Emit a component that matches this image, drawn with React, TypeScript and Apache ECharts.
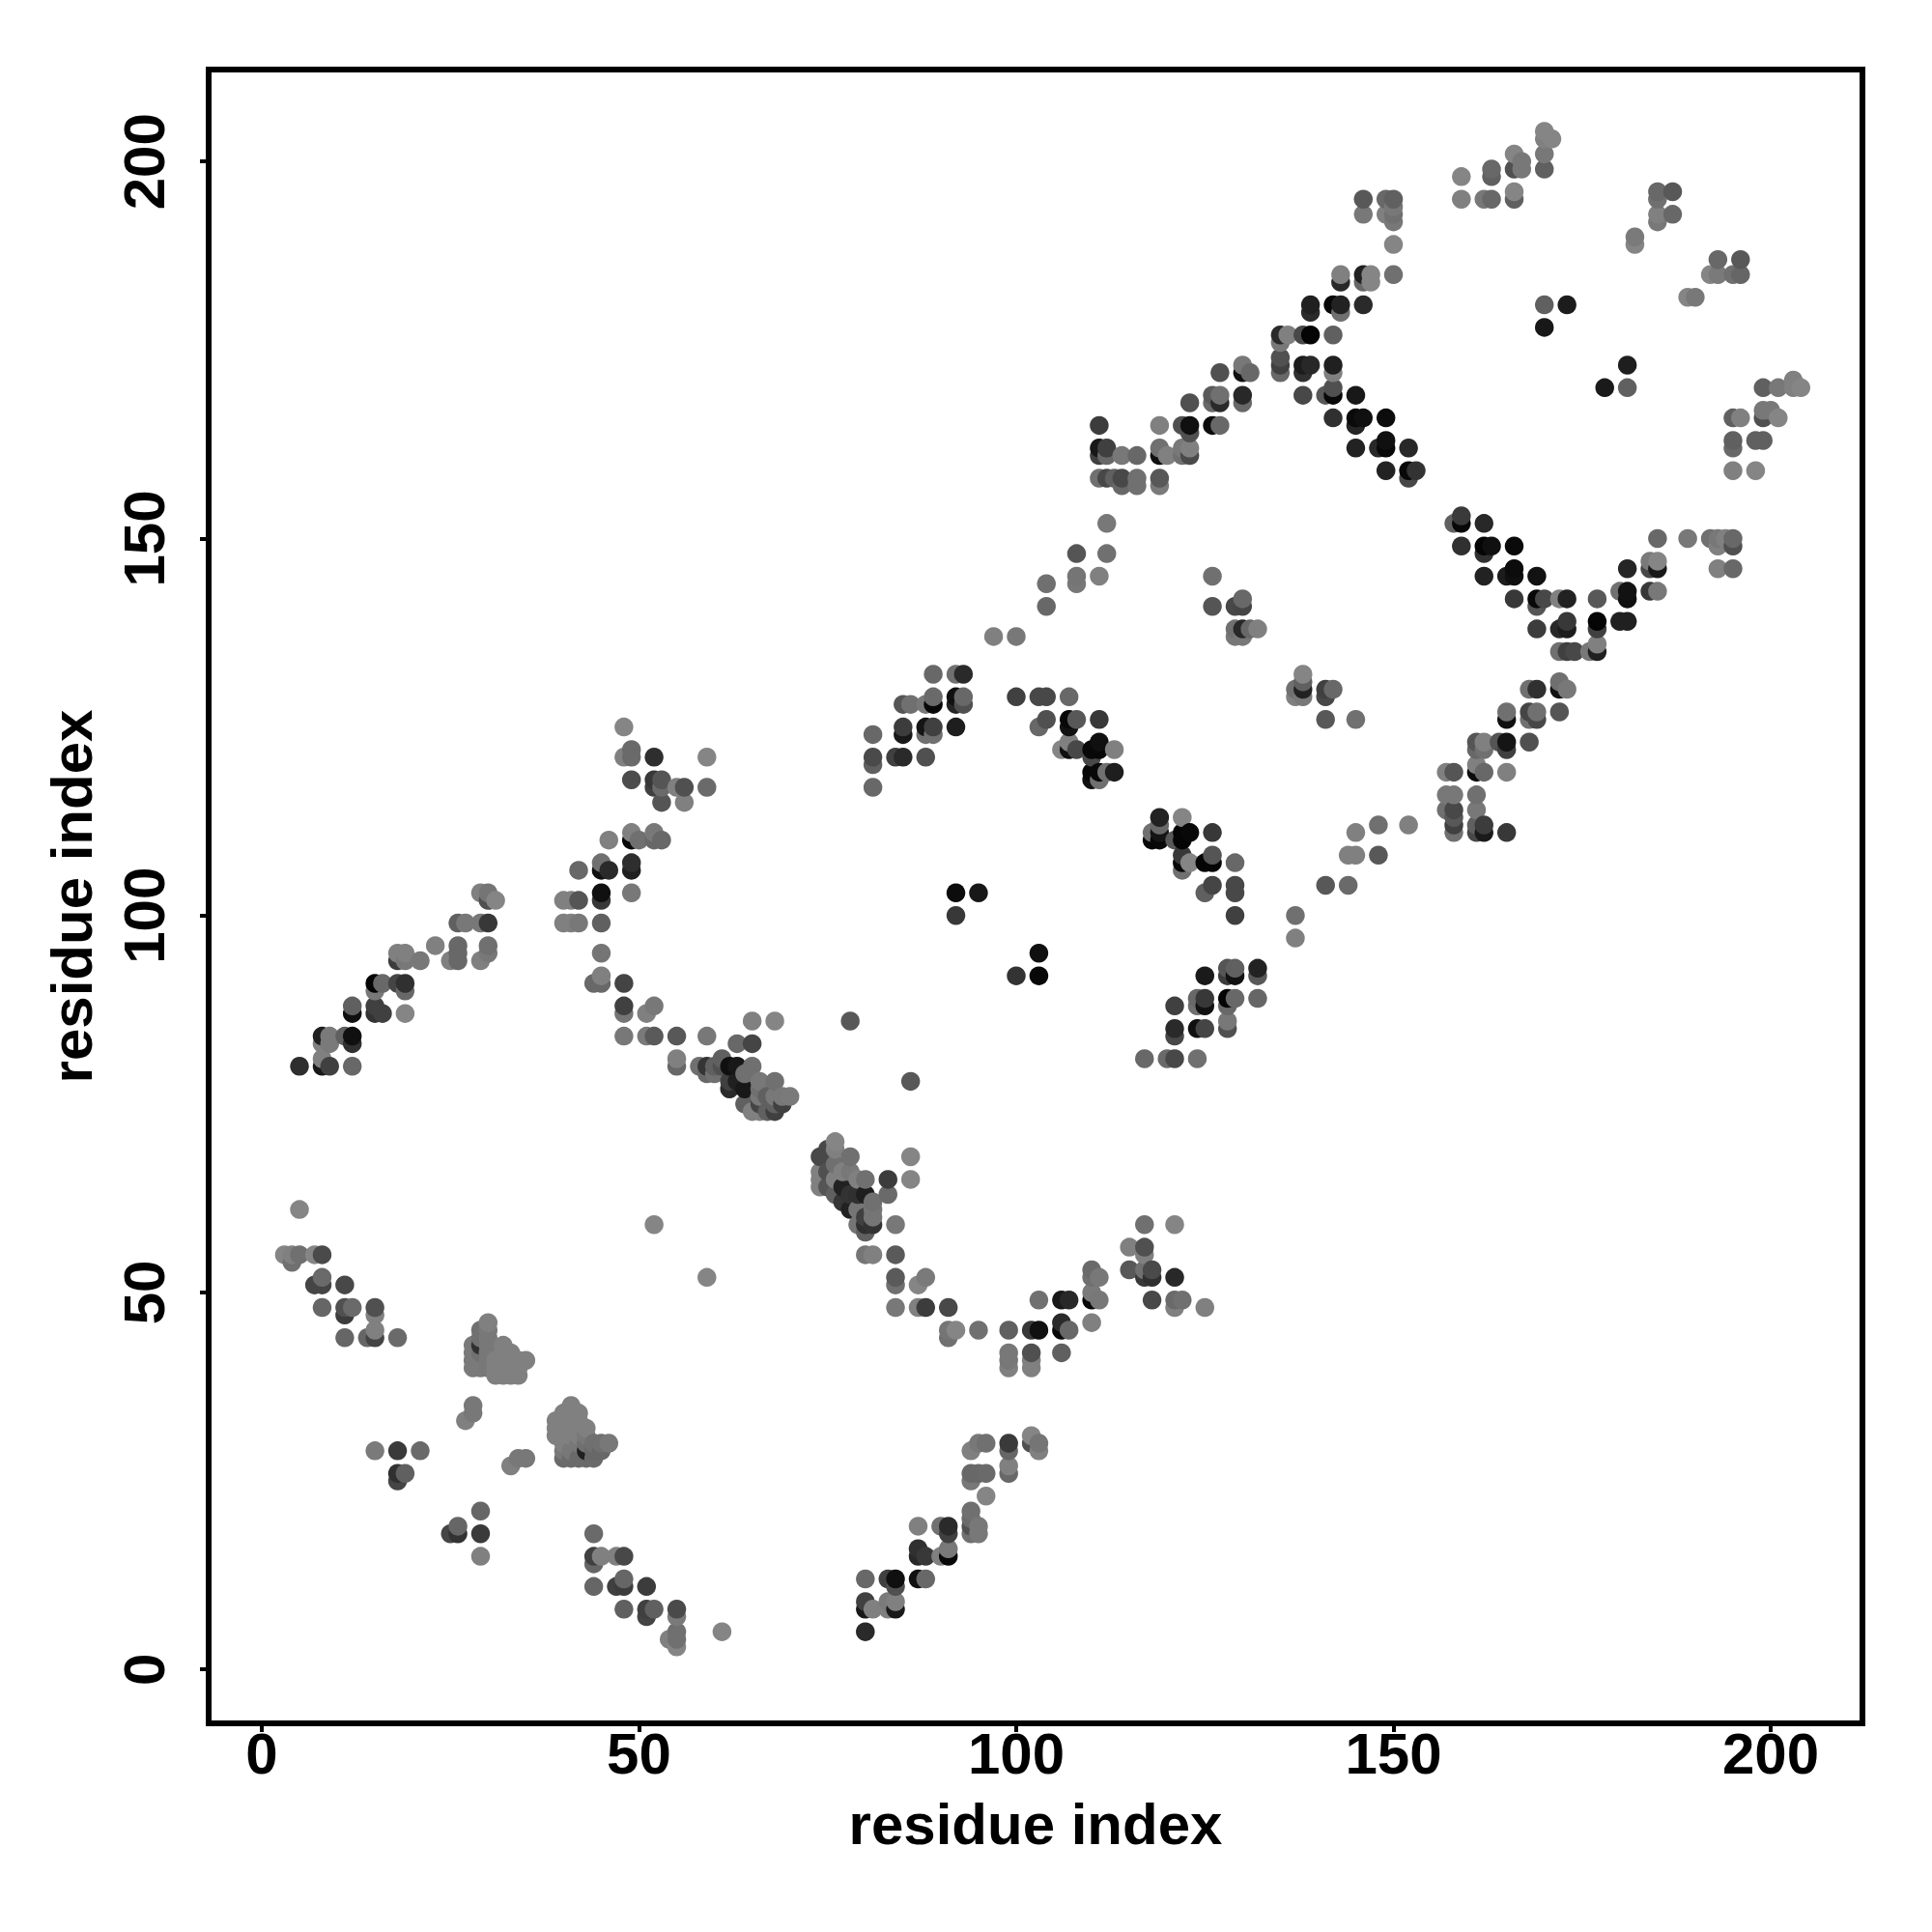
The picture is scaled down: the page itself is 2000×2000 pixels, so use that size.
import React, { useEffect, useRef } from "react";
import * as echarts from "echarts";

const tickValues = [0, 50, 100, 150, 200];
const axisTitle = "residue index";

// each point: [residue x, residue y, grey level]
const lowerLeft = [
[5,61,0x85],[3,55,0x85],[4,55,0x80],[4,54,0x70],[5,55,0x70],[7,55,0x85],[8,55,0x4a],[8,52,0x6a],[7,51,0x45],[8,51,0x45],[11,51,0x48],
[8,48,0x66],[11,48,0x50],[11,47,0x3c],[12,48,0x6a],[15,48,0x50],[15,47,0x80],[15,45,0x80],[11,44,0x66],[14,44,0x66],[15,44,0x44],[18,44,0x6a],
[28,35,0x78],[28,34,0x78],[27,33,0x80],[15,29,0x7a],[18,29,0x3a],[21,29,0x6a],[18,26,0x30],[19,26,0x60],[18,25,0x45],[33,27,0x80],[34,28,0x78],[35,28,0x78],
[29,21,0x66],[25,18,0x45],[26,18,0x33],[26,19,0x66],[29,18,0x3a],[29,15,0x80],[44,18,0x6a],[44,15,0x40],[44,14,0x66],[45,15,0x80],[47,15,0x80],[48,15,0x48],
[48,12,0x66],[47,11,0x40],[48,11,0x3c],[51,11,0x3c],[44,11,0x66],[48,8,0x60],[51,8,0x40],[51,7,0x44],[52,8,0x60],[55,8,0x4a],[55,7,0x7a],[55,5,0x70],[54,4,0x80],[55,4,0x70],[55,3,0x85],[61,5,0x85],[52,59,0x85],[59,52,0x85],
];
const clusterOne = [
[28,40,0x7a],[28,41,0x7a],[28,42,0x7a],[28,43,0x7a],[29,40,0x7a],[29,41,0x7a],[29,42,0x70],[29,43,0x30],[29,44,0x70],[29,45,0x70],
[30,40,0x78],[30,41,0x78],[30,42,0x78],[30,43,0x78],[30,44,0x78],[30,45,0x78],[30,46,0x80],[31,39,0x80],[31,40,0x80],[31,41,0x80],
[32,39,0x80],[32,40,0x80],[32,41,0x80],[32,42,0x80],[32,43,0x80],[33,39,0x80],[33,40,0x80],[33,41,0x80],[33,42,0x80],[34,39,0x80],[34,40,0x80],[34,41,0x80],[35,41,0x80],
];
const clusterTwo = [
[39,31,0x80],[39,32,0x80],[39,33,0x80],[40,28,0x6a],[40,29,0x78],[40,30,0x80],[40,31,0x80],[40,32,0x80],[40,33,0x80],[40,34,0x80],
[41,28,0x6a],[41,29,0x78],[41,31,0x80],[41,32,0x80],[41,33,0x80],[41,34,0x80],[41,35,0x80],[42,28,0x6a],[42,30,0x78],[42,31,0x80],[42,32,0x80],[42,33,0x80],[42,34,0x80],
[43,28,0x6a],[43,29,0x20],[43,30,0x70],[43,31,0x78],[43,32,0x80],[44,28,0x6a],[44,29,0x68],[44,30,0x70],[45,29,0x68],[45,30,0x70],[46,30,0x78],
];
const lowerMiddle = [
[76,70,0x85],[76,69,0x80],[74,68,0x48],[75,69,0x48],[78,68,0x70],[86,68,0x85],[86,65,0x85],[83,65,0x3c],[83,63,0x6a],[80,65,0x70],[80,63,0x1e],[84,59,0x78],[84,55,0x5a],[80,55,0x75],[81,55,0x80],
[74,66,0x80],[74,65,0x80],[74,64,0x80],[75,66,0x50],[75,64,0x55],[76,67,0x70],[76,65,0x80],[77,66,0x80],[77,64,0x22],[77,62,0x35],[78,66,0x78],[78,63,0x33],[78,61,0x22],[79,65,0x80],[79,61,0x75],[79,59,0x75],[80,59,0x30],[80,58,0x60],[81,61,0x75],[81,60,0x75],[81,59,0x33],[80,60,0x40],[79,63,0x30],[81,62,0x70],[76,63,0x60],
[84,52,0x5a],[84,51,0x70],[88,52,0x7a],[87,51,0x85],[84,48,0x78],[87,48,0x80],[88,48,0x3c],[91,48,0x48],[91,45,0x75],[91,44,0x70],[92,45,0x85],[95,45,0x70],
[99,45,0x60],[99,42,0x78],[99,41,0x78],[99,40,0x80],[102,45,0x38],[103,45,0x10],[102,42,0x50],[102,41,0x80],[102,40,0x80],[106,46,0x2a],[106,45,0x08],[107,45,0x68],[106,42,0x60],[103,49,0x70],[106,49,0x18],[107,49,0x28],
[110,46,0x80],[110,50,0x7a],[111,49,0x78],[110,49,0x08],[110,53,0x6a],[110,52,0x70],[111,52,0x78],[115,56,0x80],[117,56,0x50],[117,55,0x80],[117,59,0x70],[121,59,0x85],[115,53,0x58],[117,53,0x70],[118,53,0x4a],[117,52,0x38],[118,52,0x30],[121,52,0x28],[118,49,0x48],[121,49,0x6a],[122,49,0x70],[121,48,0x80],[125,48,0x80],
[80,5,0x2a],[80,9,0x40],[80,8,0x18],[81,8,0x80],[80,12,0x68],[83,12,0x40],[84,12,0x10],[84,11,0x50],[83,9,0x7a],[84,9,0x80],[83,8,0x80],[84,8,0x1a],[87,12,0x10],[88,12,0x68],
[87,16,0x30],[87,15,0x28],[88,15,0x38],[90,15,0x80],[91,15,0x08],[91,16,0x78],[91,18,0x40],[91,19,0x2a],[90,19,0x70],[87,19,0x80],
[94,21,0x70],[94,19,0x50],[94,18,0x70],[95,19,0x78],[95,18,0x78],[94,20,0x6a],[96,23,0x85],[94,25,0x78],[94,26,0x68],[95,26,0x68],[96,26,0x6a],[99,26,0x68],[99,27,0x80],[99,29,0x66],[99,30,0x3a],[94,29,0x80],[95,30,0x78],[96,30,0x70],[102,31,0x85],[102,30,0x50],[103,30,0x75],[103,29,0x80],
];
const upperLeft = [
[5,80,0x2e],[8,80,0x18],[9,80,0x40],[12,80,0x68],[8,81,0x80],[8,84,0x20],[9,84,0x7a],[8,83,0x80],[9,83,0x7a],[11,84,0x60],[12,84,0x10],[12,83,0x30],
[12,88,0x60],[12,87,0x10],[15,88,0x40],[15,87,0x33],[16,87,0x40],[19,87,0x85],[15,91,0x05],[15,90,0x78],[16,91,0x68],[18,91,0x45],[19,91,0x30],[19,90,0x68],
[18,95,0x80],[18,94,0x3c],[19,95,0x80],[19,94,0x78],[21,94,0x78],[23,96,0x80],[26,96,0x68],[26,95,0x68],[26,94,0x68],[25,94,0x80],[29,94,0x80],[30,96,0x70],[30,95,0x78],
[26,99,0x60],[27,99,0x78],[29,99,0x78],[30,99,0x38],[29,103,0x80],[30,103,0x75],[30,102,0x50],[31,102,0x85],
[40,102,0x80],[41,102,0x80],[42,102,0x55],[40,99,0x80],[41,99,0x80],[42,99,0x78],[45,99,0x60],[45,103,0x10],[45,102,0x38],[49,103,0x78],[42,106,0x68],[45,107,0x70],[45,106,0x10],[46,106,0x2a],[49,107,0x2e],[49,106,0x20],
[46,110,0x80],[49,111,0x80],[49,110,0x08],[50,110,0x70],[52,111,0x78],[52,110,0x68],[53,110,0x68],[45,95,0x75],[45,92,0x80],[44,91,0x68],[45,91,0x68],[48,91,0x44],
[48,88,0x40],[48,87,0x75],[52,88,0x78],[51,87,0x80],[48,84,0x78],[51,84,0x7a],[52,84,0x5a],[55,84,0x58],[59,84,0x78],[55,81,0x80],[55,80,0x68],
[48,125,0x85],[48,121,0x80],[49,122,0x6a],[49,121,0x6a],[52,121,0x2e],[59,121,0x85],[49,118,0x4c],[52,118,0x38],[53,118,0x55],[52,117,0x40],[53,117,0x6a],[55,117,0x80],[56,117,0x50],[59,117,0x6a],[53,115,0x55],[56,115,0x80],
[58,80,0x70],[59,80,0x35],[59,79,0x68],[60,80,0x60],[61,80,0x50],[60,79,0x70],[62,77,0x2a],[62,80,0x10],[63,83,0x68],[65,86,0x80],[68,86,0x85],[65,83,0x45],[63,80,0x18],[61,81,0x60],[65,80,0x70],[64,79,0x70],[66,78,0x78],[68,78,0x70],[62,78,0x40],[63,78,0x20],[64,77,0x18],[66,77,0x70],[69,76,0x78],[70,76,0x7a],[68,76,0x78],[66,76,0x78],[64,75,0x60],[66,75,0x45],[68,74,0x40],[69,75,0x40],[65,74,0x80],[66,74,0x80],[67,76,0x60],[67,74,0x60],[68,75,0x60],
[78,86,0x58],[86,78,0x58],
];
const centre = [
[81,124,0x68],[81,121,0x4a],[81,120,0x60],[81,117,0x68],[84,121,0x40],[85,121,0x2a],[88,121,0x50],[85,125,0x3c],[85,124,0x18],[88,125,0x15],[89,125,0x40],[88,124,0x70],[89,124,0x70],[92,125,0x1e],[85,128,0x55],[86,128,0x70],[88,128,0x78],[89,129,0x6a],[89,128,0x08],[92,129,0x10],[92,128,0x25],[93,129,0x68],[93,128,0x50],[89,132,0x68],[92,132,0x70],[93,132,0x2a],
[100,129,0x40],[103,129,0x48],[104,129,0x48],[107,129,0x68],[104,126,0x50],[103,125,0x68],[107,126,0x08],[107,125,0x12],[108,126,0x58],[111,126,0x38],[107,123,0x80],[106,122,0x85],[107,122,0x10],[108,122,0x48],[111,123,0x10],[110,122,0x08],[111,122,0x08],[113,122,0x80],[110,121,0x48],[110,119,0x08],[111,119,0x08],[113,119,0x1e],[112,119,0x70],[110,118,0x10],[111,118,0x70],
[92,103,0x0c],[95,103,0x18],[92,100,0x38],[103,95,0x10],[100,92,0x33],[103,92,0x08],
[119,113,0x22],[122,113,0x85],[119,112,0x68],[118,111,0x70],[118,110,0x08],[119,110,0x08],[119,111,0x15],[122,111,0x05],[123,111,0x08],[122,110,0x05],[121,110,0x58],[126,111,0x38],
[122,108,0x38],[122,107,0x08],[123,107,0x85],[122,106,0x70],[125,107,0x05],[126,107,0x05],[126,108,0x55],[129,107,0x68],[126,104,0x45],[125,103,0x60],[129,104,0x48],[129,103,0x48],[129,100,0x40],
[117,81,0x68],[120,81,0x6a],[121,81,0x48],[124,81,0x70],[121,85,0x2a],[121,84,0x48],[124,85,0x10],[125,85,0x45],[128,86,0x78],[128,85,0x50],[121,88,0x40],[124,89,0x68],[124,88,0x70],[125,89,0x38],[125,88,0x12],[128,89,0x05],[129,89,0x68],[128,88,0x68],[125,92,0x1a],[128,93,0x55],[129,93,0x60],[128,92,0x3c],[129,92,0x12],[132,93,0x22],[132,92,0x58],[132,89,0x66],
[141,104,0x58],[144,104,0x6a],[137,100,0x70],[137,97,0x80],[97,137,0x80],[100,137,0x78],[104,144,0x70],[104,141,0x68],
];
const upperRight = [
[126,145,0x70],[126,141,0x55],[129,141,0x48],[130,142,0x68],[130,141,0x45],[129,138,0x70],[130,138,0x28],[129,137,0x78],[130,137,0x78],[131,138,0x68],[132,138,0x80],
[138,132,0x85],[138,131,0x60],[137,130,0x70],[138,130,0x22],[137,129,0x80],[138,129,0x78],[141,130,0x40],[142,130,0x68],[141,129,0x48],[141,126,0x58],[145,126,0x70],
[145,111,0x80],[148,112,0x70],[152,112,0x80],[144,108,0x80],[145,108,0x80],[148,108,0x58],
[157,116,0x78],[158,116,0x78],[161,116,0x70],[157,114,0x70],[158,114,0x48],[161,114,0x78],[158,113,0x58],[158,112,0x40],[158,111,0x70],[161,112,0x60],[161,111,0x48],[162,112,0x3c],[162,111,0x1a],[165,111,0x38],
[157,119,0x80],[158,119,0x55],[161,120,0x80],[161,119,0x0c],[162,119,0x68],[165,119,0x80],[161,123,0x55],[162,123,0x80],[161,122,0x68],[162,122,0x70],[164,123,0x55],[165,123,0x15],[165,122,0x40],[168,123,0x50],
[165,127,0x70],[165,126,0x10],[168,127,0x45],[169,127,0x70],[168,126,0x70],[169,126,0x48],[172,127,0x55],[168,130,0x70],[169,130,0x30],[172,131,0x70],[172,130,0x12],[173,130,0x78],
[172,135,0x70],[173,135,0x40],[174,135,0x48],[176,135,0x78],[177,135,0x20],[177,136,0x80],[169,138,0x3c],[172,138,0x28],[173,139,0x38],[173,138,0x1c],[177,139,0x05],[177,138,0x40],[180,139,0x20],[181,139,0x20],
[166,142,0x38],[169,142,0x08],[170,142,0x48],[169,141,0x55],[172,142,0x80],[173,142,0x22],[177,142,0x58],[180,143,0x70],[181,143,0x12],[181,142,0x10],[184,143,0x38],[185,143,0x78],
[181,146,0x25],[184,147,0x7a],[185,147,0x85],[184,146,0x48],[185,146,0x18],[185,150,0x68],[189,150,0x78],[192,150,0x70],[193,150,0x78],[194,150,0x80],[195,150,0x68],[193,149,0x80],[195,149,0x50],[193,146,0x80],[195,146,0x68],
[162,145,0x22],[165,145,0x1c],[166,145,0x10],[166,146,0x0c],[169,145,0x12],[159,149,0x30],[162,149,0x05],[163,149,0x10],[162,148,0x30],[166,149,0x0a],[158,152,0x60],[159,152,0x08],[159,153,0x3a],[162,152,0x28],
[111,165,0x3c],[111,162,0x18],[112,162,0x40],[111,161,0x40],[112,161,0x68],[114,161,0x78],[116,161,0x68],[111,158,0x70],[112,158,0x48],[113,158,0x60],[114,158,0x48],[114,157,0x68],[116,158,0x70],[116,157,0x70],[119,158,0x58],[119,157,0x7a],[119,165,0x80],[119,162,0x70],[119,161,0x10],[120,161,0x80],[122,165,0x50],[123,165,0x10],[123,164,0x50],[122,162,0x78],[123,162,0x80],[122,161,0x70],[123,161,0x4a],[123,168,0x50],
[126,169,0x5a],[127,169,0x70],[126,168,0x68],[127,168,0x2a],[130,169,0x28],[130,168,0x68],[126,165,0x0c],[127,165,0x68],[127,172,0x50],[130,173,0x78],[130,172,0x10],[131,172,0x68],
[135,177,0x2a],[136,177,0x80],[135,176,0x78],[138,177,0x48],[139,177,0x05],[142,177,0x60],[135,174,0x50],[135,173,0x40],[135,172,0x68],[138,173,0x1c],[139,173,0x28],[138,172,0x30],[142,173,0x20],[142,172,0x80],[138,169,0x48],[141,169,0x58],[142,170,0x50],[142,169,0x08],[145,169,0x18],
[142,166,0x30],[145,166,0x0a],[146,166,0x10],[145,165,0x25],[149,166,0x0c],[145,162,0x22],[148,162,0x28],[149,163,0x10],[149,162,0x08],[152,162,0x28],[149,159,0x22],[152,159,0x08],[153,159,0x33],[152,158,0x48],
[139,181,0x20],[139,180,0x2a],[142,181,0x08],[143,181,0x22],[143,180,0x70],[146,181,0x2a],[143,185,0x80],[143,184,0x28],[146,185,0x20],[147,185,0x85],[147,184,0x85],[146,184,0x68],[150,185,0x70],
[112,152,0x78],[112,148,0x70],[108,148,0x55],[108,145,0x75],[108,144,0x78],[111,145,0x80],
];
const topRight = [
[159,198,0x85],[159,195,0x80],[163,199,0x68],[163,198,0x60],[162,195,0x78],[163,195,0x68],[166,201,0x85],[166,199,0x50],[167,200,0x78],[167,199,0x78],[166,196,0x85],[166,195,0x60],[170,204,0x85],[170,203,0x80],[171,203,0x85],[170,201,0x78],[170,199,0x60],
[146,195,0x58],[146,193,0x78],[149,195,0x68],[150,195,0x60],[149,193,0x80],[150,194,0x78],[150,193,0x70],[150,192,0x78],[150,189,0x85],
[185,196,0x68],[187,196,0x58],[185,195,0x70],[185,193,0x80],[187,193,0x68],[185,192,0x78],[182,190,0x7a],[182,189,0x85],
[193,187,0x68],[196,187,0x58],[192,185,0x85],[193,185,0x7a],[195,185,0x70],[196,185,0x66],[189,182,0x85],[190,182,0x78],
[170,181,0x60],[173,181,0x1c],[170,178,0x18],[181,173,0x1e],[178,170,0x1a],[181,170,0x60],
[199,170,0x60],[201,170,0x78],[203,171,0x80],[203,170,0x80],[204,170,0x85],[195,166,0x60],[196,166,0x80],[199,167,0x78],[200,167,0x78],[199,166,0x50],[201,166,0x85],[195,163,0x60],[195,162,0x68],[198,163,0x60],[199,163,0x60],[195,159,0x80],[198,159,0x85],
];

const allPoints = [...lowerLeft, ...clusterOne, ...clusterTwo, ...lowerMiddle, ...upperLeft, ...centre, ...upperRight, ...topRight]
  .slice()
  .sort((a, b) => a[0] - b[0] || a[1] - b[1]);

const font = "'Liberation Sans', Arial, sans-serif";

function axisOf(rotate: number, margin: number, gap: number, min: number, max: number, pos: string) {
  return {
    type: "value" as const,
    position: pos,
    min,
    max,
    name: axisTitle,
    nameLocation: "middle" as const,
    nameGap: gap,
    nameTextStyle: { fontFamily: font, fontWeight: "bold" as const, fontSize: 60, color: "#000" },
    axisLine: { show: false, onZero: false },
    axisTick: { show: true, length: 9, inside: false, lineStyle: { color: "#000", width: 4 }, customValues: tickValues },
    axisLabel: { show: true, rotate, margin, fontFamily: font, fontWeight: "bold" as const, fontSize: 60, color: "#000", customValues: tickValues, hideOverlap: false, showMinLabel: true, showMaxLabel: true },
    splitLine: { show: false },
  };
}

export default function App() {
  const ref = useRef<HTMLDivElement>(null);
  useEffect(() => {
    const chart = echarts.init(ref.current!, undefined, { renderer: "svg" });
    chart.setOption({
      animation: false,
      backgroundColor: "#fff",
      grid: { left: 216, right: 72, top: 72, bottom: 216, containLabel: false, show: true, borderColor: "#000", borderWidth: 6, backgroundColor: "transparent" },
      xAxis: { ...axisOf(0, 1, 74, -7.04, 212.16, "bottom") },
      yAxis: { ...axisOf(90, 37, 112, -7.15, 212.2, "left") },
      series: [
        {
          type: "scatter",
          symbol: "circle",
          symbolSize: 19.5,
          clip: false,
          data: allPoints.map((p) => ({
            value: [p[0], p[1]],
            itemStyle: { color: `rgb(${p[2]},${p[2]},${p[2]})`, opacity: 1 },
          })),
        },
      ],
    });
    return () => chart.dispose();
  }, []);
  return <div ref={ref} style={{ width: 2000, height: 2000, position: "absolute", left: 0, top: 0 }} />;
}
